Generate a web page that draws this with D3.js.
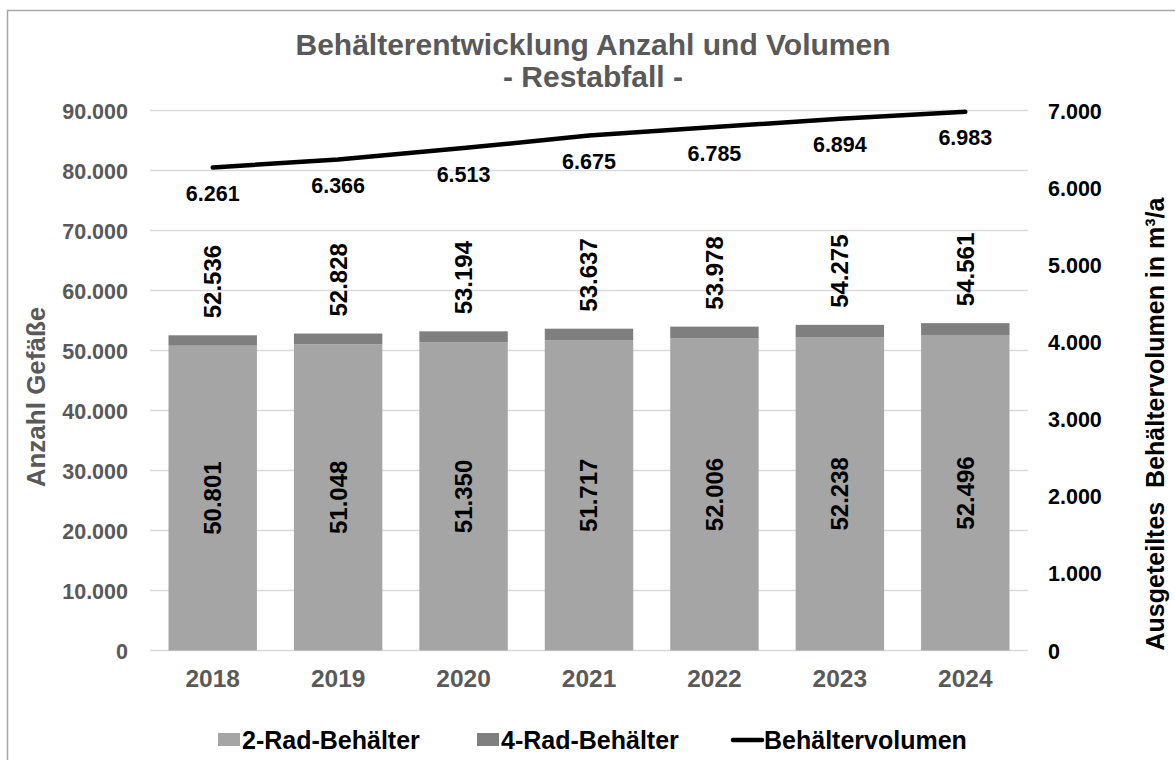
<!DOCTYPE html>
<html>
<head>
<meta charset="utf-8">
<script src="https://cdn.jsdelivr.net/npm/d3@7"></script>
<style>
  body { margin: 0; background: #fff; }
  text { font-family: "Liberation Sans", Arial, sans-serif; font-weight: bold; }
</style>
</head>
<body>
<script>
// years and values
var years = ["2018", "2019", "2020", "2021", "2022", "2023", "2024"];
var zweiRad = [50801, 51048, 51350, 51717, 52006, 52238, 52496];
var gesamt = [52536, 52828, 53194, 53637, 53978, 54275, 54561];
var volumen = [6261, 6366, 6513, 6675, 6785, 6894, 6983];

var leftTicks = [0, 10000, 20000, 30000, 40000, 50000, 60000, 70000, 80000, 90000];
var rightTicks = [0, 1000, 2000, 3000, 4000, 5000, 6000, 7000];

var width = 1175;
var height = 760;

var fmt = function(v) {
  return d3.format(",")(v).replace(/,/g, ".");
};

var data = years.map(function(y, i) {
  return { year: y, zwei: zweiRad[i], vier: gesamt[i] - zweiRad[i], total: gesamt[i], vol: volumen[i] };
});

var svg = d3.select("body")
            .append("svg")
            .attr("width", width)
            .attr("height", height);

// chart frame
svg.append("rect")
   .attr("x", 7.5)
   .attr("y", 10.5)
   .attr("width", 1300)
   .attr("height", 900)
   .attr("fill", "none")
   .attr("stroke", "#a6a6a6")
   .attr("stroke-width", 1.5);

var xScale = d3.scaleBand()
               .domain(years)
               .range([150, 1028])
               .paddingInner(0.295)
               .paddingOuter(0.1475);

var yScale = d3.scaleLinear()
               .domain([0, 90000])
               .range([650.5, 110.5]);

var y2Scale = d3.scaleLinear()
                .domain([0, 7000])
                .range([650.5, 110.5]);

// gridlines
svg.append("g")
   .selectAll("line")
   .data(leftTicks)
   .enter()
   .append("line")
   .attr("x1", 150)
   .attr("x2", 1028)
   .attr("y1", function(d){ return yScale(d); })
   .attr("y2", function(d){ return yScale(d); })
   .attr("stroke", "#d9d9d9")
   .attr("stroke-width", 1.3);

// left axis
var yAxis = d3.axisLeft(yScale)
              .tickValues(leftTicks)
              .tickFormat(fmt)
              .tickSize(0)
              .tickPadding(22);

var gl = svg.append("g")
   .attr("transform", "translate(150,0)")
   .call(yAxis);
gl.select(".domain").remove();
gl.selectAll("text")
  .attr("fill", "#595959")
  .attr("font-size", 21.5)
  .attr("dy", "0.35em");

// right axis
var y2Axis = d3.axisRight(y2Scale)
               .tickValues(rightTicks)
               .tickFormat(fmt)
               .tickSize(0)
               .tickPadding(20);

var gr = svg.append("g")
   .attr("transform", "translate(1028,0)")
   .call(y2Axis);
gr.select(".domain").remove();
gr.selectAll("text")
  .attr("fill", "#000")
  .attr("font-size", 21.5)
  .attr("dy", "0.35em");

// x axis
var xAxis = d3.axisBottom(xScale)
              .tickSize(0)
              .tickPadding(19);

var gx = svg.append("g")
   .attr("transform", "translate(0,650.5)")
   .call(xAxis);
gx.select(".domain").remove();
gx.selectAll("text")
  .attr("fill", "#595959")
  .attr("font-size", 24.5);

// bars: 2-Rad
svg.selectAll("rect.zwei")
   .data(data)
   .enter()
   .append("rect")
   .attr("class", "zwei")
   .attr("x", function(d){ return xScale(d.year); })
   .attr("y", function(d){ return yScale(d.zwei); })
   .attr("width", xScale.bandwidth())
   .attr("height", function(d){ return yScale(0) - yScale(d.zwei); })
   .attr("fill", "#a5a5a5");

// bars: 4-Rad
svg.selectAll("rect.vier")
   .data(data)
   .enter()
   .append("rect")
   .attr("class", "vier")
   .attr("x", function(d){ return xScale(d.year); })
   .attr("y", function(d){ return yScale(d.total); })
   .attr("width", xScale.bandwidth())
   .attr("height", function(d){ return yScale(d.zwei) - yScale(d.total); })
   .attr("fill", "#7f7f7f");

var cx = function(d){ return xScale(d.year) + xScale.bandwidth() / 2; };

// labels inside 2-Rad segment
svg.selectAll("text.zweiLabel")
   .data(data)
   .enter()
   .append("text")
   .attr("class", "zweiLabel")
   .attr("transform", function(d){
     return "translate(" + cx(d) + "," + (yScale(d.zwei / 2)) + ") rotate(-90)";
   })
   .attr("text-anchor", "middle")
   .attr("dy", "0.35em")
   .attr("font-size", 24)
   .attr("fill", "#000")
   .text(function(d){ return fmt(d.zwei); });

// total labels above bars
svg.selectAll("text.totalLabel")
   .data(data)
   .enter()
   .append("text")
   .attr("class", "totalLabel")
   .attr("transform", function(d){
     return "translate(" + cx(d) + "," + (yScale(d.total) - 17) + ") rotate(-90)";
   })
   .attr("text-anchor", "start")
   .attr("dy", "0.35em")
   .attr("font-size", 24)
   .attr("fill", "#000")
   .text(function(d){ return fmt(d.total); });

// volume line
var line = d3.line()
             .x(cx)
             .y(function(d){ return y2Scale(d.vol); });

svg.append("path")
   .datum(data)
   .attr("d", line)
   .attr("fill", "none")
   .attr("stroke", "#000")
   .attr("stroke-width", 4.5)
   .attr("stroke-linecap", "round")
   .attr("stroke-linejoin", "round");

svg.selectAll("text.volLabel")
   .data(data)
   .enter()
   .append("text")
   .attr("class", "volLabel")
   .attr("x", cx)
   .attr("y", function(d){ return y2Scale(d.vol) + 33.5; })
   .attr("text-anchor", "middle")
   .attr("font-size", 21.5)
   .attr("fill", "#000")
   .text(function(d){ return fmt(d.vol); });

// title
svg.append("text")
   .attr("x", 593)
   .attr("y", 55)
   .attr("text-anchor", "middle")
   .attr("font-size", 30)
   .attr("fill", "#595959")
   .text("Behälterentwicklung Anzahl und Volumen");

svg.append("text")
   .attr("x", 593)
   .attr("y", 87)
   .attr("text-anchor", "middle")
   .attr("font-size", 30)
   .attr("fill", "#595959")
   .text("- Restabfall -");

// axis titles
svg.append("text")
   .attr("transform", "translate(45,397) rotate(-90)")
   .attr("text-anchor", "middle")
   .attr("font-size", 26)
   .attr("fill", "#595959")
   .text("Anzahl Gefäße");

svg.append("text")
   .attr("transform", "translate(1164,424) rotate(-90)")
   .attr("text-anchor", "middle")
   .attr("font-size", 25)
   .attr("fill", "#000")
   .style("white-space", "pre")
   .text("Ausgeteiltes  Behältervolumen in m³/a");

// legend
var legend = svg.append("g");
legend.append("rect").attr("x", 218).attr("y", 733).attr("width", 22).attr("height", 13).attr("fill", "#a5a5a5");
legend.append("text").attr("x", 242).attr("y", 749).attr("font-size", 25).attr("fill", "#000").text("2-Rad-Behälter");
legend.append("rect").attr("x", 477).attr("y", 733).attr("width", 22).attr("height", 13).attr("fill", "#7f7f7f");
legend.append("text").attr("x", 501).attr("y", 749).attr("font-size", 25).attr("fill", "#000").text("4-Rad-Behälter");
legend.append("line").attr("x1", 733).attr("x2", 762).attr("y1", 740).attr("y2", 740)
      .attr("stroke", "#000").attr("stroke-width", 4.5).attr("stroke-linecap", "round");
legend.append("text").attr("x", 764).attr("y", 749).attr("font-size", 25).attr("fill", "#000").text("Behältervolumen");
</script>
</body>
</html>
